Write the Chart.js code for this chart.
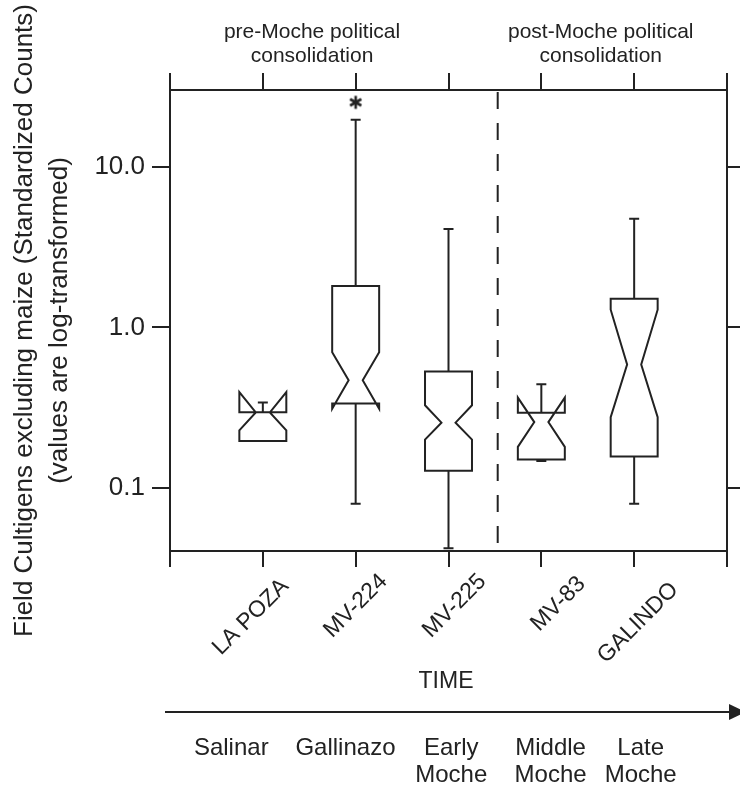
<!DOCTYPE html>
<html>
<head>
<meta charset="utf-8">
<script src="https://cdn.jsdelivr.net/npm/chart.js@4.4.1/dist/chart.umd.min.js"></script>
<style>
  html, body { margin: 0; padding: 0; background: #ffffff; }
  #c { display: block; }
</style>
</head>
<body>
<canvas id="c" width="740" height="786"></canvas>
<script>
// Sites in chronological order and their box-plot summaries (standardized counts)
const categories  = ['LA POZA', 'MV-224', 'MV-225', 'MV-83', 'GALINDO'];
const whiskerLow  = [0.196, 0.0797, 0.042, 0.147, 0.0797];
const q1          = [0.196, 0.335, 0.128, 0.150, 0.157];
const notchLow    = [0.228, 0.311, 0.200, 0.180, 0.276];
const median      = [0.295, 0.468, 0.255, 0.257, 0.588];
const notchHigh   = [0.395, 0.700, 0.327, 0.365, 1.29];
const q3          = [0.296, 1.81, 0.532, 0.294, 1.51];
const whiskerHigh = [0.341, 19.7, 4.10, 0.443, 4.76];
// Extreme value flagged with an asterisk (site index, value)
const outlierSite  = [1];
const outlierValue = [25.3];

const yTickValues = [0.1, 1, 10];
const periods = [['Salinar'], ['Gallinazo'], ['Early', 'Moche'], ['Middle', 'Moche'], ['Late', 'Moche']];
const phases  = [['pre-Moche political', 'consolidation'], ['post-Moche political', 'consolidation']];

// Layout constants (axis units along x, pixels elsewhere)
const INK = '#222222';
const FONT = '"Liberation Sans", Arial, Helvetica, sans-serif';
const Y_MIN = 0.0404, Y_MAX = 30.2;
const DIVIDER_X = 3.53;
const PHASE_X = [1.53, 4.64];
const PERIOD_X = [0.66, 1.89, 3.03, 4.10, 5.07];
const SITE_LABEL_DX = [-12, 0, 6, 17, 4];
const SITE_LABEL_CY = [617, 606, 606, 604, 623];

// six-spoke asterisk used as the point marker for the extreme value
function asteriskMarker() {
  const c = document.createElement('canvas');
  c.width = 16; c.height = 16;
  const g = c.getContext('2d');
  g.strokeStyle = INK;
  g.lineWidth = 2.6;
  g.lineCap = 'butt';
  const r = 6.5;
  [90, 30, 150].forEach(deg => {
    const a = deg * Math.PI / 180;
    g.beginPath();
    g.moveTo(8 - r * Math.cos(a), 8 - r * Math.sin(a));
    g.lineTo(8 + r * Math.cos(a), 8 + r * Math.sin(a));
    g.stroke();
  });
  return c;
}

const notchedBoxes = {
  id: 'notchedBoxes',
  afterDatasetsDraw(chart) {
    const { ctx, scales: { x, y } } = chart;
    const unit = x.getPixelForValue(1) - x.getPixelForValue(0);
    const half = unit * 0.253;
    const waist = half * 0.30;
    const cap = 5;
    const py = v => y.getPixelForValue(v);
    ctx.save();
    ctx.strokeStyle = INK;
    ctx.lineWidth = 2;
    ctx.lineJoin = 'miter';
    categories.forEach((name, i) => {
      const cx = x.getPixelForValue(i + 1);
      const L = cx - half, R = cx + half;
      ctx.beginPath();
      ctx.moveTo(L, py(q1[i]));
      ctx.lineTo(L, py(notchLow[i]));
      ctx.lineTo(cx - waist, py(median[i]));
      ctx.lineTo(L, py(notchHigh[i]));
      ctx.lineTo(L, py(q3[i]));
      ctx.lineTo(R, py(q3[i]));
      ctx.lineTo(R, py(notchHigh[i]));
      ctx.lineTo(cx + waist, py(median[i]));
      ctx.lineTo(R, py(notchLow[i]));
      ctx.lineTo(R, py(q1[i]));
      ctx.closePath();
      ctx.stroke();
      ctx.beginPath();
      if (whiskerHigh[i] > q3[i]) {
        ctx.moveTo(cx, py(q3[i]));
        ctx.lineTo(cx, py(whiskerHigh[i]));
        ctx.moveTo(cx - cap, py(whiskerHigh[i]));
        ctx.lineTo(cx + cap, py(whiskerHigh[i]));
      }
      if (whiskerLow[i] < q1[i]) {
        ctx.moveTo(cx, py(q1[i]));
        ctx.lineTo(cx, py(whiskerLow[i]));
        ctx.moveTo(cx - cap, py(whiskerLow[i]));
        ctx.lineTo(cx + cap, py(whiskerLow[i]));
      }
      ctx.stroke();
    });
    // divider between the two political phases
    const dx = x.getPixelForValue(DIVIDER_X);
    ctx.beginPath();
    ctx.setLineDash([17, 14]);
    ctx.moveTo(dx, chart.chartArea.top + 2);
    ctx.lineTo(dx, chart.chartArea.bottom);
    ctx.stroke();
    ctx.restore();
  },
  afterDraw(chart) {
    const { ctx, scales: { x } } = chart;
    ctx.save();
    ctx.fillStyle = INK;
    ctx.strokeStyle = INK;
    ctx.textAlign = 'center';
    ctx.textBaseline = 'middle';

    // phase headings above the frame
    ctx.font = '21px ' + FONT;
    phases.forEach((lines, i) => {
      const px = x.getPixelForValue(PHASE_X[i]);
      lines.forEach((t, j) => ctx.fillText(t, px, 32 + j * 24));
    });

    // site names, rotated
    ctx.font = '23px ' + FONT;
    categories.forEach((name, i) => {
      const px = x.getPixelForValue(i + 1) + SITE_LABEL_DX[i];
      ctx.save();
      ctx.translate(px, SITE_LABEL_CY[i]);
      ctx.rotate(-Math.PI / 4);
      ctx.fillText(name, 0, 0);
      ctx.restore();
    });

    // time axis
    ctx.font = '23px ' + FONT;
    ctx.fillText('TIME', 446, 682);
    ctx.lineWidth = 2;
    ctx.beginPath();
    ctx.moveTo(165, 712);
    ctx.lineTo(732, 712);
    ctx.stroke();
    ctx.beginPath();
    ctx.moveTo(746, 712);
    ctx.lineTo(729, 704);
    ctx.lineTo(729, 720);
    ctx.closePath();
    ctx.fill();

    // cultural periods
    ctx.font = '24px ' + FONT;
    periods.forEach((lines, i) => {
      const px = x.getPixelForValue(PERIOD_X[i]);
      lines.forEach((t, j) => ctx.fillText(t, px, 748 + j * 27));
    });
    ctx.restore();
  }
};

const tickGrid = len => ({ drawOnChartArea: false, drawTicks: true, tickLength: len, color: INK, lineWidth: 2 });
const frameBorder = { display: true, color: INK, width: 2 };

new Chart(document.getElementById('c'), {
  type: 'scatter',
  data: {
    datasets: [{
      label: 'extreme',
      data: outlierSite.map((s, i) => ({ x: s + 1, y: outlierValue[i] })),
      pointStyle: asteriskMarker(),
      radius: 8,
      borderColor: INK,
      backgroundColor: INK,
      clip: false
    }]
  },
  options: {
    responsive: false,
    animation: false,
    devicePixelRatio: 1,
    layout: { padding: 0 },
    plugins: { legend: { display: false }, tooltip: { enabled: false } },
    scales: {
      x: {
        type: 'linear', position: 'bottom', min: 0, max: 6,
        afterFit: s => { s.height = 235; },
        ticks: { stepSize: 1, display: false },
        grid: tickGrid(16), border: frameBorder
      },
      xTop: {
        type: 'linear', position: 'top', min: 0, max: 6,
        afterFit: s => { s.height = 90; },
        ticks: { stepSize: 1, display: false },
        grid: tickGrid(17), border: frameBorder
      },
      y: {
        type: 'logarithmic', position: 'left', min: Y_MIN, max: Y_MAX,
        afterBuildTicks: s => { s.ticks = yTickValues.map(v => ({ value: v })); },
        afterFit: s => { s.width = 170; },
        ticks: { callback: v => Number(v).toFixed(1), font: { family: FONT, size: 26 }, color: INK, padding: 7 },
        grid: tickGrid(18), border: frameBorder,
        title: {
          display: true,
          text: ['Field Cultigens excluding maize (Standardized Counts)', '(values are log-transformed)'],
          font: { family: FONT, size: 26, lineHeight: 1.35 },
          color: INK,
          padding: { top: 7, bottom: 0 }
        }
      },
      yRight: {
        type: 'logarithmic', position: 'right', min: Y_MIN, max: Y_MAX,
        afterBuildTicks: s => { s.ticks = yTickValues.map(v => ({ value: v })); },
        afterFit: s => { s.width = 13; },
        ticks: { display: false },
        grid: tickGrid(13), border: frameBorder
      }
    }
  },
  plugins: [notchedBoxes]
});
</script>
</body>
</html>
